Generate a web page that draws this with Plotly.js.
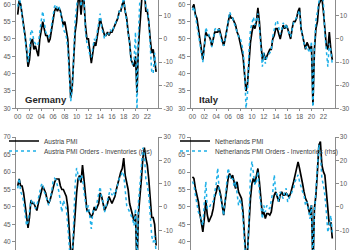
<!DOCTYPE html>
<html><head><meta charset="utf-8">
<script src="https://cdn.plot.ly/plotly-3.0.1.min.js"></script>
<style>html,body{margin:0;padding:0;background:#fff}#chart{width:350px;height:250px}</style>
</head><body><div id="chart"></div>
<script>
// Quarterly observations, 2000 Q1 .. 2023 Q3
const startYear = 2000, stepYear = 0.25, nObs = 95;
const dates = [];
for (let i = 0; i < nObs; i++) dates.push(startYear + i * stepYear);

const xTickVals = [2000,2002,2004,2006,2008,2010,2012,2014,2016,2018,2020,2022];
const xTickText = ["00","02","04","06","08","10","12","14","16","18","20","22"];
const leftTicksTop = [30,35,40,45,50,55,60];
const rightTicksTop = [-30,-20,-10,0,10];
const leftTicksBot = [40,45,50,55,60,65,70];
const rightTicksBot = [-10,0,10,20,30];

const germanyPMI = [57,61,60,57, 55,51,47,42, 44,49,50,47, 48,46,45,50, 53,55,53,51, 51,49,50,53,
 56,58,59,58, 59,58,56,54, 55,53,50,42, 33,36,46,52, 55,61,62,57, 62,61,54,50, 50,46,43,46,
 49,48,51,53, 56,54,52,51, 51,52,51,52, 52,53,54,55, 56,58,58,60, 61,58,56,52, 49,44,43,42,
 45,34.5,48,58, 62,66,65,58, 58,55,50,46, 47,44,40.5];
const germanyOI = [14,18,15,10, 6,0,-5,-10, -5,4,3,-1, -2,-3,-2,4, 8,12,6,3, 2,1,2,6,
 11,14,15,13, 14,12,8,4, 3,1,-4,-15, -27,-22,-5,8, 14,20,20,14, 20,18,3,-2, -4,-7,-8,-4,
 0,-1,3,8, 11,5,2,0, 2,3,2,4, 3,5,6,8, 9,12,12,16, 18,12,8,2, -2,-10,-11,-9,
 3,-32,2,18, 22,25,22,14, 14,8,-3,-14, -15,-6,-13];

const italyPMI = [59,60,57,56, 53,50,47,44, 48,52,51,51, 50,48,50,52, 52,52,53,51, 49,48,50,52,
 55,57,56,56, 55,54,52,51, 49,47,45,40, 35,37,45,49, 52,54,53,55, 59,55,49,44, 46,44,45,46,
 47,47,50,51, 53,53,51,50, 52,54,53,54, 53,51,50,53, 55,55,56,58, 59,53,51,49, 47,49,48,47,
 48,31,47,53, 55,60,61,62, 58,54,48,47, 52,47,44];
const italyOI = [12.4,14,10,6, 3,-1,-5,-10, -4,5,3,2, 0,-3.5,0,4, 5,4,4,1, -2,-3,0,3,
 8,11.7,10,9, 7,5,2,1, 1,-2,-5,-12, -30,-24,-5,4, 7,9.5,6,8, 11,5,-4,-12, -6,-10.7,-8,-7,
 -6,-5,1,5, 7,8,4,2, 4,7,5,6.6, 4,2,1,4, 7,8,9.5,11, 12.4,5,1,-2, -4,-3,-5,-6,
 -1,-32,-3,8, 12,17,20,20, 16,2,-6,-12, -2,-5,-11];

const austriaPMI = [56,58,56,56, 54,50,46,44, 47,52,51,51, 50,49,51,53, 54,56,55,54, 52,51,52,54,
 56,57,58,58, 58,56,55,55, 54,53,50,44, 37,36,43,50, 54,58,59,57, 62,58,54,49, 49,48,47,48,
 50,49,50,51, 54,53,51,49, 50,51,53,52, 51,52,53,55, 57,58,60,61, 64,59,57,55, 51,49,47,46,
 48,32,48,52, 58,64,67,64, 62,58,53,47, 47,45,39];
const austriaOI = [8.0,12.3,6.5,5.1, 2.2,-3.6,-8.0,-6.5, -0.7,2.9,1.4,2.2, -0.7,0.7,3.6,6.5,
 9.4,10.1,6.5,5.1, 2.2,0.7,3.6,6.5, 10.9,12.3,11.6,9.4, 6.5,2.2,-2.2,2.9, 0.7,-0.7,-8.0,-16.7,
 -25.4,-22.5,-2.2,9.4, 16.7,13.8,10.9,13.8, 12.3,6.5,0.7,-2.2, 0.7,-5.1,-9.4,-2.2,
 -0.7,-0.7,2.2,6.5, 8.7,3.6,2.2,-2.2, 0.7,3.6,6.5,8.0, 5.1,6.5,5.1,8.0, 10.1,12.3,13.0,15.2,
 13.8,6.5,0.7,-0.7, -2.2,-3.6,-5.1,-8.0, -0.7,-25.4,2.2,9.4, 16.7,25.4,22.5,12.3,
 9.4,5.1,-3.6,-12.3, -15.2,-12.3,-19.6];

const netherlandsPMI = [58.6,58.2,55.3,53.4, 51.5,48.1,45.7,42.9, 46.7,52.0,47.7,45.7, 46.7,47.7,49.6,52.9,
 54.3,56.2,55.3,53.4, 50.5,47.7,51.5,55.3, 58.2,59.6,58.2,59.1, 57.2,55.3,57.2,54.3,
 53.4,52.4,48.6,41.9, 35.2,37.1,46.7,52.4, 56.7,58.2,56.7,59.1, 61.0,57.2,51.5,47.7,
 48.6,46.7,48.1,48.1, 47.7,48.6,51.5,53.4, 54.3,52.9,51.5,53.4, 54.3,53.4,53.4,53.9,
 53.4,52.9,53.9,55.3, 57.2,59.1,61.5,62.9, 61.0,58.2,56.7,54.3, 52.4,51.5,49.6,47.7,
 50.5,32.4,49.6,53.4, 60.1,67.7,68.7,62.0, 60.1,59.1,54.3,48.6, 44.8,45.7,41.0];
const netherlandsOI = [10.9,9.4,5.1,0.7, -2.2,-3.6,-6.5,-8.0, 2.2,10.9,-0.7,-0.7, 0.7,2.2,2.2,6.5,
 10.1,16.7,6.5,3.6, 0.7,-3.6,3.6,12.3, 16.7,13.8,11.6,12.3, 8.7,10.9,6.5,0.7,
 3.6,0.7,-5.1,-16.7, -25.4,-22.5,-0.7,13.8, 19.6,13.8,9.4,10.9, 15.2,6.5,-0.7,-5.1,
 0.7,-2.2,0.7,-0.7, -0.7,2.2,6.5,13.8, 6.5,5.1,2.2,6.5, 5.1,3.6,6.5,8.0,
 2.2,3.6,5.1,6.5, 8.0,10.9,12.3,13.8, 10.9,8.0,6.5,5.1, 0.7,2.2,-2.2,-5.1,
 0.7,-26.8,-2.2,9.4, 21.0,26.8,22.5,12.3, 9.4,5.1,-2.2,-10.9, -8.0,-3.6,-10.9];

const panels = [
  {name: "Germany", pmi: germanyPMI, oi: germanyOI, x: "x", y: "y", y2: "y2", legend: null},
  {name: "Italy", pmi: italyPMI, oi: italyOI, x: "x2", y: "y3", y2: "y4", legend: null},
  {name: "Austria", pmi: austriaPMI, oi: austriaOI, x: "x3", y: "y5", y2: "y6", legend: ["legend","legend2"]},
  {name: "Netherlands", pmi: netherlandsPMI, oi: netherlandsOI, x: "x4", y: "y7", y2: "y8", legend: ["legend3","legend4"]}
];

const BLACK = "#000000", BLUE = "#1eb0e8";
const traces = [];
panels.forEach(p => {
  traces.push({x: dates, y: p.pmi, xaxis: p.x, yaxis: p.y, type: "scatter", mode: "lines",
    name: p.name + " PMI", line: {color: BLACK, width: 1.7},
    showlegend: !!p.legend, legend: p.legend ? p.legend[0] : undefined});
  traces.push({x: dates, y: p.oi, xaxis: p.x, yaxis: p.y2, type: "scatter", mode: "lines",
    name: p.name + " PMI Orders - Inventories (rhs)", line: {color: BLUE, width: 1.5, dash: "dot"},
    showlegend: !!p.legend, legend: p.legend ? p.legend[1] : undefined});
});

const W = 350, H = 250;
const FONT = "Liberation Sans, Arial, sans-serif";
const tickFont = {family: FONT, size: 6.5, color: "#595959"};
const AX = "#8c8c8c";
const xRange = [1999.71, 2023.87];
const colL = [16 / W, 158.3 / W], colR = [190.7 / W, 334.5 / W];
const rowT = [1 - 108.3 / H, 1], rowB = [0, (H - 137) / H];
const topL = [30, 61.24], topR = [-30, -30 + 1.5 * (61.24 - 30)];
const botL = [37.71, 70], botR = [30 - 1.5 * (70 - 37.71), 30];

function xa(dom, anchor, shown) {
  return {domain: dom, anchor: anchor, range: xRange, showgrid: false, zeroline: false,
    showline: shown, linecolor: AX, linewidth: 1, ticks: shown ? "outside" : "", ticklen: 2,
    tickcolor: AX, tickvals: xTickVals, ticktext: xTickText, showticklabels: shown, tickfont: tickFont,
    fixedrange: true};
}
function yl(dom, anchor, range, tv) {
  return {domain: dom, anchor: anchor, range: range, showgrid: false, zeroline: false, showline: true,
    linecolor: AX, linewidth: 1, ticks: "outside", ticklen: 3, tickcolor: AX,
    tickvals: tv, ticktext: tv.map(String), tickfont: tickFont, fixedrange: true};
}
function yr(over, anchor, range, tv) {
  return {overlaying: over, anchor: anchor, side: "right", range: range, showgrid: false, zeroline: false,
    showline: true, linecolor: AX, linewidth: 1, ticks: "outside", ticklen: 3, tickcolor: AX,
    tickvals: tv, ticktext: tv.map(String), tickfont: tickFont, fixedrange: true};
}
const legFont = {family: "Liberation Sans Narrow, Arial Narrow, Liberation Sans, sans-serif", size: 6.5, color: "#404040"};
function leg(xpx, ypx) {
  return {x: xpx / W, y: 1 - ypx / H, xanchor: "left", yanchor: "middle", bgcolor: "rgba(0,0,0,0)",
    borderwidth: 0, font: legFont, itemwidth: 30, tracegroupgap: 0};
}

const layout = {
  width: W, height: H, margin: {l: 0, r: 0, t: 0, b: 0},
  paper_bgcolor: "#ffffff", plot_bgcolor: "#ffffff", showlegend: true,
  xaxis: xa(colL, "y", true), yaxis: yl(rowT, "x", topL, leftTicksTop), yaxis2: yr("y", "x", topR, rightTicksTop),
  xaxis2: xa(colR, "y3", true), yaxis3: yl(rowT, "x2", topL, leftTicksTop), yaxis4: yr("y3", "x2", topR, rightTicksTop),
  xaxis3: xa(colL, "y5", false), yaxis5: yl(rowB, "x3", botL, leftTicksBot), yaxis6: yr("y5", "x3", botR, rightTicksBot),
  xaxis4: xa(colR, "y7", false), yaxis7: yl(rowB, "x4", botL, leftTicksBot), yaxis8: yr("y7", "x4", botR, rightTicksBot),
  legend: leg(4, 141), legend2: leg(4, 151), legend3: leg(175, 141), legend4: leg(175, 151),
  annotations: [
    {text: "<b>Germany</b>", xref: "paper", yref: "paper", x: 23 / W, y: 1 - 99 / H, xanchor: "left", yanchor: "middle",
      showarrow: false, font: {family: FONT, size: 9.5, color: "#262626"}},
    {text: "<b>Italy</b>", xref: "paper", yref: "paper", x: 197 / W, y: 1 - 99 / H, xanchor: "left", yanchor: "middle",
      showarrow: false, font: {family: FONT, size: 9.5, color: "#262626"}}
  ]
};

Plotly.newPlot("chart", traces, layout, {staticPlot: true, displayModeBar: false});
</script>
</body></html>
